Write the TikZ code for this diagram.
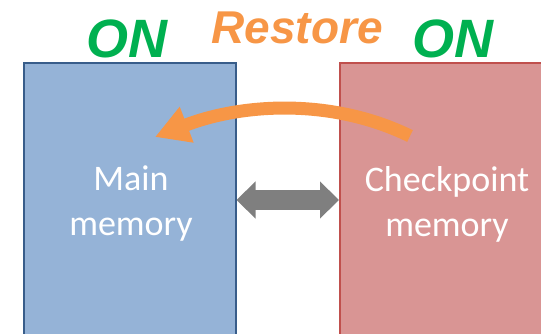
\documentclass[tikz,border=0pt]{standalone}
\usepackage{fontspec}
\setmainfont{Carlito}
\newfontfamily\arialf{Liberation Sans}
\usetikzlibrary{arrows.meta}
\definecolor{bluefill}{HTML}{95B3D7}
\definecolor{blueline}{HTML}{385D8A}
\definecolor{redfill}{HTML}{D99594}
\definecolor{redline}{HTML}{C0504D}
\definecolor{ongreen}{HTML}{00B050}
\definecolor{rorange}{HTML}{F79646}
\definecolor{dgray}{HTML}{7F7F7F}
\tikzset{
  membox/.style={minimum width=212pt, minimum height=280pt, line width=1.5pt, anchor=north west, inner sep=0pt},
  memtext/.style={text=white, font=\fontsize{36}{45}\selectfont, align=center, inner sep=0pt},
  ontext/.style={text=ongreen, font=\arialf\bfseries\itshape\fontsize{54}{60}\selectfont, anchor=base},
}
\begin{document}
\begin{tikzpicture}[x=1pt,y=-1pt]
\useasboundingbox (0,0) rectangle (541,333);
\begin{scope}
\clip (0,0) rectangle (541,333);
\node[membox, draw=blueline, fill=bluefill] (main) at (23,62) {};
\node[membox, draw=redline, fill=redfill] (ckpt) at (339,62) {};
\node[memtext] (maintxt) at (131,204) {Main\\memory};
\node[memtext] (ckpttxt) at (447,204) {Checkpoint\\memory};
\node[ontext] (on1) at (127,57) {ON};
\node[ontext] (on2) at (453,57) {ON};
\node[text=rorange, font=\arialf\bfseries\itshape\fontsize{46}{50}\selectfont, anchor=base] (restore) at (297,43) {Restore};
\draw[dgray, line width=20pt, {Triangle[length=19pt,width=36pt]}-{Triangle[length=19pt,width=36pt]}] (main.east |- 0,200) -- (ckpt.west |- 0,200);
\coordinate (rs) at (410,136);
\coordinate (rt) at (155,137);
\draw[rorange, line width=13pt, -{Triangle[length=34pt,width=36pt]}] (rs) .. controls (330,97) and (240,104) .. (rt);
\end{scope}
\end{tikzpicture}
\end{document}
